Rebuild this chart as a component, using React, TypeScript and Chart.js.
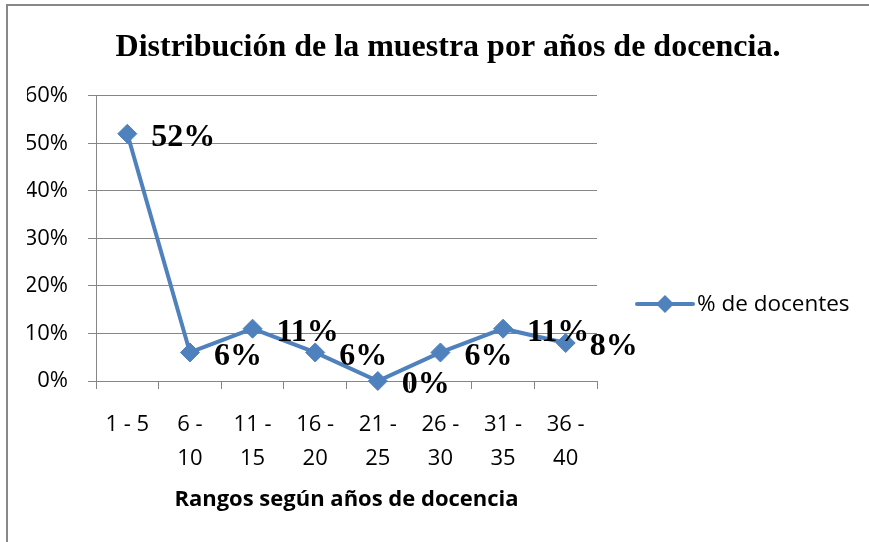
import React, { useEffect, useRef } from 'react';
import { Chart, registerables } from 'chart.js';

Chart.register(...registerables);

const chartTitle = 'Distribución de la muestra por años de docencia.';
const xAxisTitle = 'Rangos según años de docencia';
const seriesName = '% de docentes';
const categories: string[][] = [
  ['1 - 5'],
  ['6 -', '10'],
  ['11 -', '15'],
  ['16 -', '20'],
  ['21 -', '25'],
  ['26 -', '30'],
  ['31 -', '35'],
  ['36 -', '40'],
];
const values = [52, 6, 11, 6, 0, 6, 11, 8];
const yTicks = [0, 10, 20, 30, 40, 50, 60];

const BLUE = '#4F81BD';
const GRID = '#868686';
const SANS = '"Open Sans", "Liberation Sans", sans-serif';
const SERIF = '"Liberation Serif", "Times New Roman", serif';

const framePlugin = {
  id: 'frame',
  beforeDraw(chart: any) {
    const { ctx, width, height } = chart;
    ctx.save();
    ctx.fillStyle = '#fff';
    ctx.fillRect(0, 0, width, height);
    ctx.strokeStyle = '#888888';
    ctx.lineWidth = 2;
    ctx.beginPath();
    ctx.moveTo(7, height + 2);
    ctx.lineTo(7, 5);
    ctx.lineTo(width + 2, 5);
    ctx.stroke();
    ctx.restore();
  },
};

const labelPlugin = {
  id: 'pointLabels',
  afterDatasetsDraw(chart: any) {
    const { ctx } = chart;
    const meta = chart.getDatasetMeta(0);
    ctx.save();
    ctx.font = `bold 32px ${SERIF}`;
    ctx.fillStyle = '#000';
    ctx.textAlign = 'left';
    ctx.textBaseline = 'middle';
    meta.data.forEach((pt: any, i: number) => {
      ctx.fillText(`${values[i]}%`, pt.x + 24, pt.y + 4);
    });
    ctx.restore();
  },
};

const legendPlugin = {
  id: 'customLegend',
  afterDraw(chart: any) {
    const { ctx, chartArea } = chart;
    const x0 = chartArea.right + 40;
    const y = 304;
    ctx.save();
    ctx.strokeStyle = BLUE;
    ctx.lineWidth = 4;
    ctx.lineCap = 'round';
    ctx.beginPath();
    ctx.moveTo(x0, y);
    ctx.lineTo(x0 + 56, y);
    ctx.stroke();
    ctx.fillStyle = BLUE;
    ctx.beginPath();
    const r = 9;
    const cx = x0 + 28;
    ctx.moveTo(cx, y - r);
    ctx.lineTo(cx + r, y);
    ctx.lineTo(cx, y + r);
    ctx.lineTo(cx - r, y);
    ctx.closePath();
    ctx.fill();
    ctx.font = `22.5px ${SANS}`;
    ctx.fillStyle = '#000';
    ctx.textAlign = 'left';
    ctx.textBaseline = 'middle';
    ctx.fillText(seriesName, x0 + 60, y + 1);
    ctx.restore();
  },
};

export default function App() {
  const canvasRef = useRef<HTMLCanvasElement | null>(null);

  useEffect(() => {
    document.body.style.margin = '0';
    const canvas = canvasRef.current;
    if (!canvas) return;
    Chart.defaults.color = '#000';
    const chart = new Chart(canvas, {
      type: 'line',
      data: {
        labels: categories,
        datasets: [
          {
            label: seriesName,
            data: values,
            borderColor: BLUE,
            backgroundColor: BLUE,
            borderWidth: 4,
            pointStyle: 'rectRot',
            pointRadius: 9.5,
            pointHoverRadius: 9.5,
            pointBorderWidth: 1,
            pointBorderColor: BLUE,
            pointBackgroundColor: BLUE,
            tension: 0,
            clip: false,
          } as any,
        ],
      },
      options: {
        responsive: false,
        animation: false,
        layout: { padding: { top: 10, left: 27, right: 0, bottom: 14 } },
        plugins: {
          legend: { display: false },
          tooltip: { enabled: false },
          title: {
            display: true,
            text: chartTitle,
            color: '#000',
            font: { family: SERIF, size: 32, weight: 'bold', lineHeight: 1.2 },
            padding: { top: 18.5, bottom: 28.8 },
          },
        },
        scales: {
          x: {
            offset: true,
            grid: {
              display: true,
              drawOnChartArea: false,
              drawTicks: true,
              tickLength: 8,
              offset: true,
              color: GRID,
              lineWidth: 1,
            },
            border: { display: true, color: GRID, width: 1 },
            ticks: {
              maxRotation: 0,
              autoSkip: false,
              padding: 19,
              color: '#000',
              font: { family: SANS, size: 22, lineHeight: 1.545 },
            },
            title: {
              display: true,
              text: xAxisTitle,
              color: '#000',
              font: { family: SANS, size: 22, weight: 'bold', lineHeight: 1.2 },
              padding: { top: 0, bottom: 15 },
            },
            afterFit: (scale: any) => {
              scale.height = 147;
            },
          },
          y: {
            min: yTicks[0],
            max: yTicks[yTicks.length - 1],
            grid: { color: GRID, lineWidth: 1, tickLength: 8 },
            border: { display: true, color: GRID, width: 1 },
            ticks: {
              stepSize: yTicks[1] - yTicks[0],
              padding: 20,
              color: '#000',
              font: { family: SANS, size: 22 },
              callback: (v: any) => `${v}%`,
            },
            afterFit: (scale: any) => {
              scale.width = 69;
            },
          },
          yR: {
            type: 'linear',
            position: 'right',
            display: true,
            grid: { display: false },
            border: { display: false },
            ticks: { display: false },
            afterFit: (scale: any) => {
              scale.width = 272;
            },
          },
        },
      },
      plugins: [framePlugin, labelPlugin, legendPlugin],
    });
    return () => chart.destroy();
  }, []);

  return (
    <div style={{ width: 869, height: 542 }}>
      <canvas ref={canvasRef} width={869} height={542} />
    </div>
  );
}
